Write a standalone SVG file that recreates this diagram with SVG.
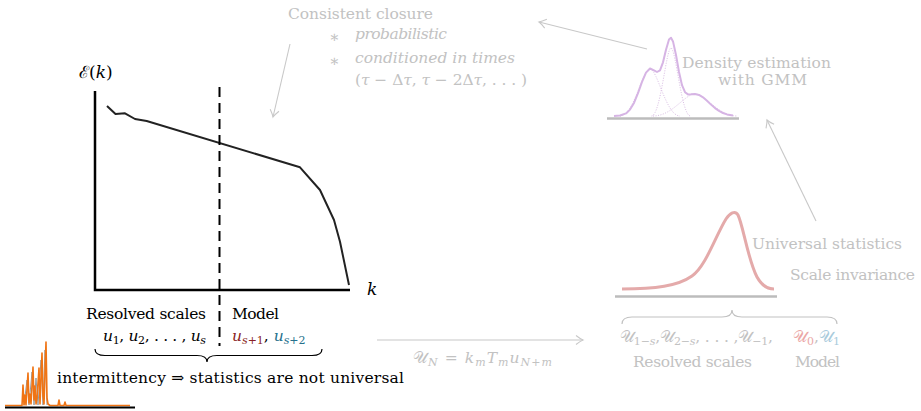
<svg xmlns="http://www.w3.org/2000/svg" width="921" height="411" viewBox="0 0 921 411">
<defs>
<style>
text{font-family:"DejaVu Serif",serif;font-size:15.5px;}
.k{fill:#000;}
.g{fill:#c2c2c2;}
.i{font-style:italic;}
.sb{font-size:11px;}
.axis{stroke:#000;stroke-width:2.5;fill:none;}
.conn{stroke:#c8c8c8;stroke-width:1.1;fill:none;marker-end:url(#arr);}
</style>
<marker id="arr" markerUnits="userSpaceOnUse" viewBox="-10 -6 12 12" refX="0" refY="0" markerWidth="12" markerHeight="12" orient="auto">
<path d="M -7 -4.5 Q -2.5 -1 0 0 Q -2.5 1 -7 4.5" fill="none" stroke="#c8c8c8" stroke-width="1.1"/>
</marker>
</defs>
<rect width="921" height="411" fill="#fff"/>

<g id="spectrum-plot">
<polyline class="axis" points="95,91 95,290 350,290"/>
<polyline fill="none" stroke="#222" stroke-width="2" stroke-linejoin="round" points="107,106 115.5,114 125,113.3 135,119 146.7,121 300,167.3 320,190 334,220 340,241.7 349,285"/>
<line x1="219.5" y1="87" x2="219.5" y2="346" stroke="#000" stroke-width="2" stroke-dasharray="10 6"/>
<text x="79" y="78" class="k" style="font-size:17px">ℰ(<tspan class="i">k</tspan>)</text>
<text x="367" y="295" class="k i" style="font-size:17px">k</text>
</g>

<g id="resolved-labels">
<text x="86" y="319" class="k" textLength="120" lengthAdjust="spacing">Resolved scales</text>
<text x="232" y="319" class="k" textLength="47" lengthAdjust="spacing">Model</text>
<text x="103" y="341" class="k" textLength="103" lengthAdjust="spacing"><tspan class="i">u</tspan><tspan class="sb" dy="3">1</tspan><tspan dy="-3">, </tspan><tspan class="i">u</tspan><tspan class="sb" dy="3">2</tspan><tspan dy="-3">, . . . , </tspan><tspan class="i">u</tspan><tspan class="sb i" dy="3">s</tspan></text>
<text x="232" y="341"><tspan fill="#8a1f24"><tspan class="i">u</tspan><tspan class="sb" dy="3"><tspan class="i">s</tspan>+1</tspan></tspan><tspan dy="-3" fill="#000">, </tspan><tspan fill="#26708c"><tspan class="i">u</tspan><tspan class="sb" dy="3"><tspan class="i">s</tspan>+2</tspan></tspan></text>
<path d="M 95 349 Q 95 355.5 105 355.5 L 197 355.5 Q 207 355.5 207 362 Q 207 355.5 217 355.5 L 312 355.5 Q 322 355.5 322 349" fill="none" stroke="#000" stroke-width="1.2"/>
</g>

<g id="intermittency">
<polyline fill="none" stroke="#9a9a9a" stroke-width="1" points="24,405 27,380 29,405 32,372 34,405 36,378 38,405 41,360 43,405 45,350 47,405"/>
<polyline fill="none" stroke="#f07414" stroke-width="1.6" stroke-linejoin="round" points="5,405.5 22,405.5 23,385 24,405 25,395 26,405 28,373 29,403 30,394 31,404 33,367 34,400 35,386 36,404 37,398 39,368 40,404 42,353 43,396 44,404 46,342 47,398 48,404 50,405.5 58,405.5 59,400 60,405.5 64,405.5 65,402 66,405.5 130,405.5"/>
<line x1="5" y1="407.5" x2="135" y2="407.5" stroke="#000" stroke-width="2"/>
<text x="57" y="383" class="k" textLength="347" lengthAdjust="spacing">intermittency ⇒ statistics are not universal</text>
</g>

<g id="closure-text">
<text x="288" y="19" class="g" textLength="145" lengthAdjust="spacing">Consistent closure</text>
<text x="329" y="42" class="g">∗</text>
<text x="355" y="39" class="g i" textLength="92" lengthAdjust="spacing">probabilistic</text>
<text x="329" y="66" class="g">∗</text>
<text x="355" y="63" class="g i" textLength="160" lengthAdjust="spacing">conditioned in times</text>
<text x="355" y="85" class="g" textLength="172" lengthAdjust="spacing">(<tspan class="i">τ</tspan> − Δ<tspan class="i">τ</tspan>, <tspan class="i">τ</tspan> − 2Δ<tspan class="i">τ</tspan>, . . . )</text>
</g>

<g id="density-node">
<line x1="607" y1="118.5" x2="739" y2="118.5" stroke="#bcbcbc" stroke-width="2.5"/>
<g fill="none" stroke="#d9bde3" stroke-width="1" stroke-dasharray="1 1.5">
<path d="M 620 116 C 634 116, 642.5 69, 650 69 C 657.5 69, 666 116, 680 116"/>
<path d="M 651.5 116 C 660.6 116, 666.1 48, 671 48 C 675.9 48, 681.4 116, 690.5 116"/>
<path d="M 653 116 C 672.6 116, 684.5 94, 695 94 C 705.5 94, 717.4 116, 737 116"/>
</g>
<polyline fill="none" stroke="#d6b4e4" stroke-width="2" stroke-linejoin="round" points="614,116 620,115.5 626,113.4 630,109.6 634,102.9 638,93.1 642,81.9 646,72.6 650,68.5 654,70.3 657,72 660,70.3 663,62.3 666,49.7 669,39.5 671,37.7 673,41.4 676,55 679,72 682,85.2 685,92.2 688,94.4 691,94.3 695,94 699,94.9 703,97.3 707,100.8 711,104.6 715,108.1 719,110.9 723,113 727,114.4 733,115.5"/>
<text x="682" y="68" class="g" textLength="149" lengthAdjust="spacing">Density estimation</text>
<text x="718" y="85" class="g" textLength="89" lengthAdjust="spacing">with GMM</text>
</g>

<g id="universal-node">
<line x1="615" y1="296.5" x2="777" y2="296.5" stroke="#bcbcbc" stroke-width="2.5"/>
<path d="M 622 289 C 655 289, 678 286, 692 276 C 706 266, 716 235, 726 219 C 730 213, 735 210, 738 215 C 743 225, 748 260, 757 277 C 762 286, 768 289, 774 289" fill="none" stroke="#e4aaaa" stroke-width="3"/>
<text x="752" y="249" class="g" textLength="150" lengthAdjust="spacing">Universal statistics</text>
<text x="790" y="280" class="g" textLength="125" lengthAdjust="spacing">Scale invariance</text>
</g>

<g id="mapped-labels">
<path d="M 622 324 Q 622 317 632 317 L 722 317 Q 732 317 732 310 Q 732 317 742 317 L 827 317 Q 837 317 837 324" fill="none" stroke="#c2c2c2" stroke-width="1.2"/>
<text x="620" y="342" class="g" textLength="153" lengthAdjust="spacing">𝒰<tspan class="sb" dy="3">1−<tspan class="i">s</tspan></tspan><tspan dy="-3">,𝒰</tspan><tspan class="sb" dy="3">2−<tspan class="i">s</tspan></tspan><tspan dy="-3">, . . . ,𝒰</tspan><tspan class="sb" dy="3">−1</tspan><tspan dy="-3">,</tspan></text>
<text x="793" y="342"><tspan fill="#eba7a7">𝒰<tspan class="sb" dy="3">0</tspan></tspan><tspan class="g" dy="-3">,</tspan><tspan fill="#a9cbdc">𝒰<tspan class="sb" dy="3">1</tspan></tspan></text>
<text x="633" y="367" class="g" textLength="119" lengthAdjust="spacing">Resolved scales</text>
<text x="795" y="367" class="g" textLength="45" lengthAdjust="spacing">Model</text>
<text x="413" y="363" class="g" textLength="139" lengthAdjust="spacing">𝒰<tspan class="sb i" dy="3">N</tspan><tspan dy="-3"> = </tspan><tspan class="i">k</tspan><tspan class="sb i" dy="3">m</tspan><tspan class="i" dy="-3">T</tspan><tspan class="sb i" dy="3">m</tspan><tspan class="i" dy="-3">u</tspan><tspan class="sb" dy="3"><tspan class="i">N</tspan>+<tspan class="i">m</tspan></tspan></text>
</g>

<g id="connectors">
<line class="conn" x1="290" y1="44" x2="273" y2="117"/>
<line class="conn" x1="647" y1="49" x2="539" y2="22"/>
<line class="conn" x1="816" y1="221" x2="767" y2="120"/>
<line class="conn" x1="377" y1="340" x2="583" y2="340"/>
</g>
</svg>
